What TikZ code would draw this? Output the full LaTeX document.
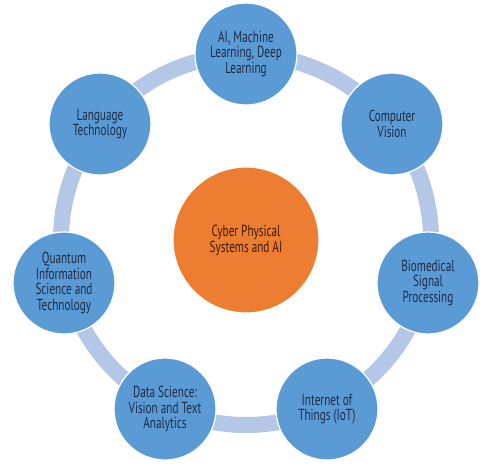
\documentclass[tikz,border=0pt]{standalone}
\usepackage{fontspec}
\setmainfont{PT Sans}[FakeStretch=0.7]
\definecolor{topicblue}{HTML}{5B9BD5}
\definecolor{ringblue}{HTML}{B4C7E7}
\definecolor{coreorange}{HTML}{ED7D31}
\definecolor{topictext}{HTML}{1C2B44}
\definecolor{coretext}{HTML}{3A1C08}

\begin{document}
\begin{tikzpicture}[x=1pt,y=-1pt,
  topic/.style={circle,fill=topicblue,draw=white,line width=1.2pt,minimum size=102pt,
    inner sep=0pt,align=center,text=topictext,font=\fontsize{16}{15.5}\selectfont},
  core/.style={circle,fill=coreorange,draw=white,line width=1.2pt,minimum size=146pt,
    inner sep=0pt,align=center,text=coretext,font=\fontsize{16}{16}\selectfont}]
\useasboundingbox (0,0) rectangle (490,469);
\coordinate (centre) at (246,240);
\draw[ringblue,line width=16pt] (centre) circle[radius=185pt];

\node[core] (cps) at (centre) {Cyber Physical\\Systems and AI};

\node[topic] (ml) at (246,54) {AI, Machine\\Learning, Deep\\Learning};
\node[topic] (vision) at (392,124) {Computer\\Vision};
\node[topic] (biomed) at (428,283) {Biomedical\\Signal\\Processing};
\node[topic] (iot) at (327,409) {Internet of\\Things (IoT)};
\node[topic] (datasci) at (165,409) {Data Science:\\Vision and Text\\Analytics};
\node[topic] (quantum) at (64,283) {Quantum\\Information\\Science and\\Technology};
\node[topic] (lang) at (100,124) {Language\\Technology};
\end{tikzpicture}
\end{document}
